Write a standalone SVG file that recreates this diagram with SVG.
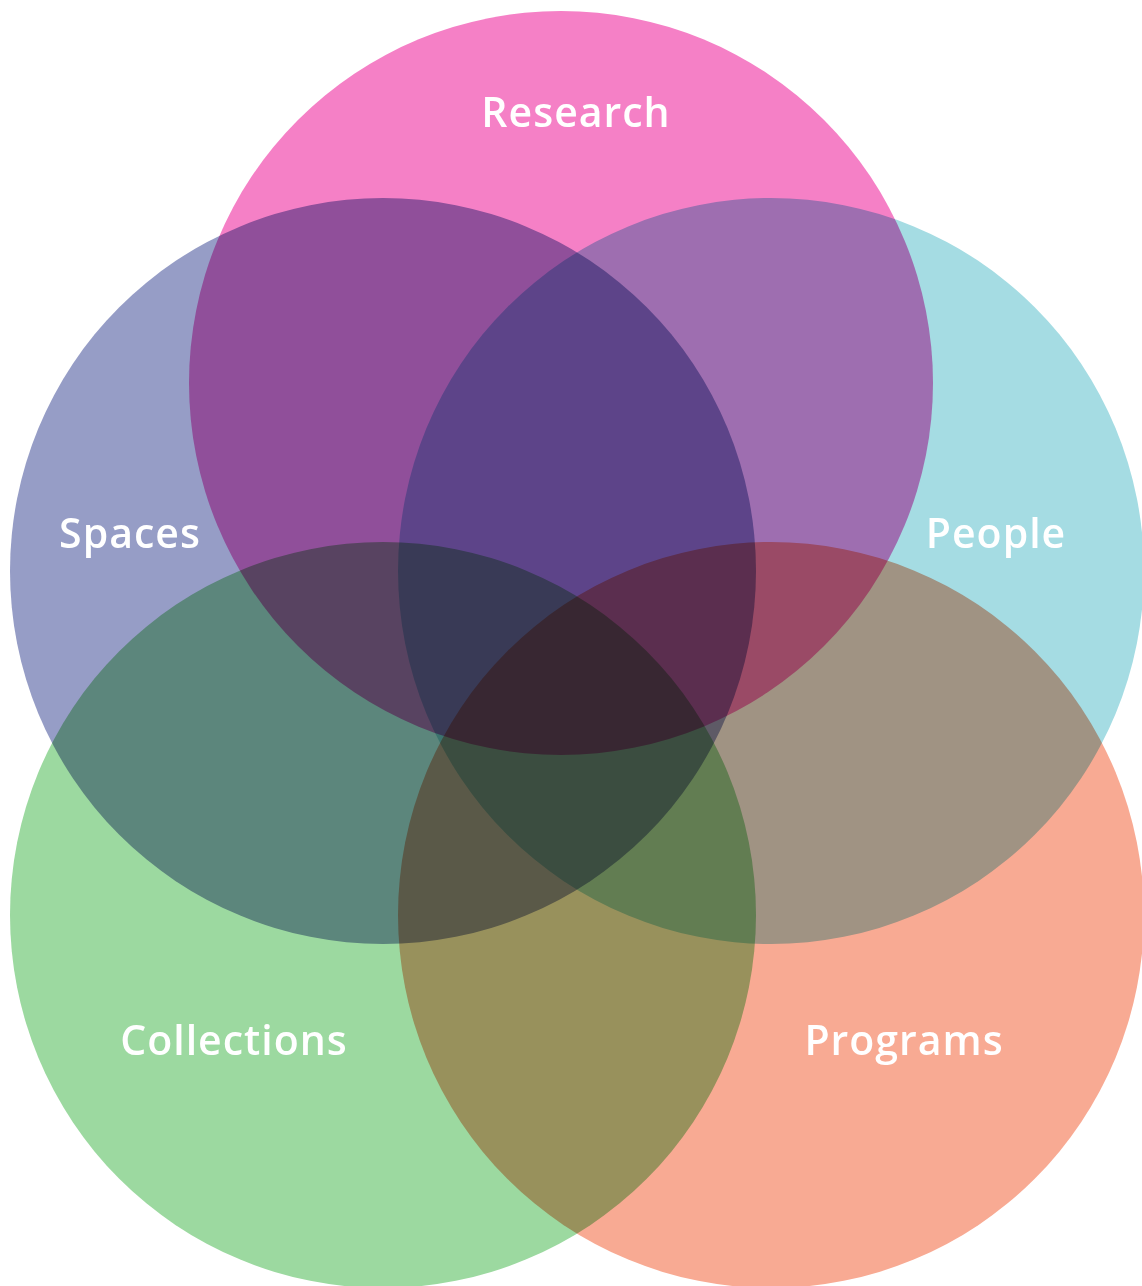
<svg xmlns="http://www.w3.org/2000/svg" width="1142" height="1286" viewBox="0 0 1142 1286">
<style>
.c{mix-blend-mode:multiply}
.t{font-family:"Open Sans","Lato",sans-serif;font-weight:600;font-size:41px;letter-spacing:1px;fill:#fff;text-anchor:middle}
</style>
<rect width="1142" height="1286" fill="#fff"/>
<g style="isolation:isolate">
<g id="research"><circle class="c" cx="561" cy="383" r="372" fill="#F580C6"/></g>
<g id="spaces"><circle class="c" cx="383" cy="571" r="373" fill="#969DC6"/></g>
<g id="people"><circle class="c" cx="771" cy="571" r="373" fill="#A5DCE3"/></g>
<g id="collections"><circle class="c" cx="383" cy="915" r="373" fill="#9CD9A0"/></g>
<g id="programs"><circle class="c" cx="771" cy="915" r="373" fill="#F8AA93"/></g>
</g>
<g id="connectors"></g>
<g id="labels">
<text class="t" x="576" y="127">Research</text>
<text class="t" x="130" y="548">Spaces</text>
<text class="t" x="996" y="548">People</text>
<text class="t" x="234" y="1055">Collections</text>
<text class="t" x="904" y="1055">Programs</text>
</g>
</svg>
